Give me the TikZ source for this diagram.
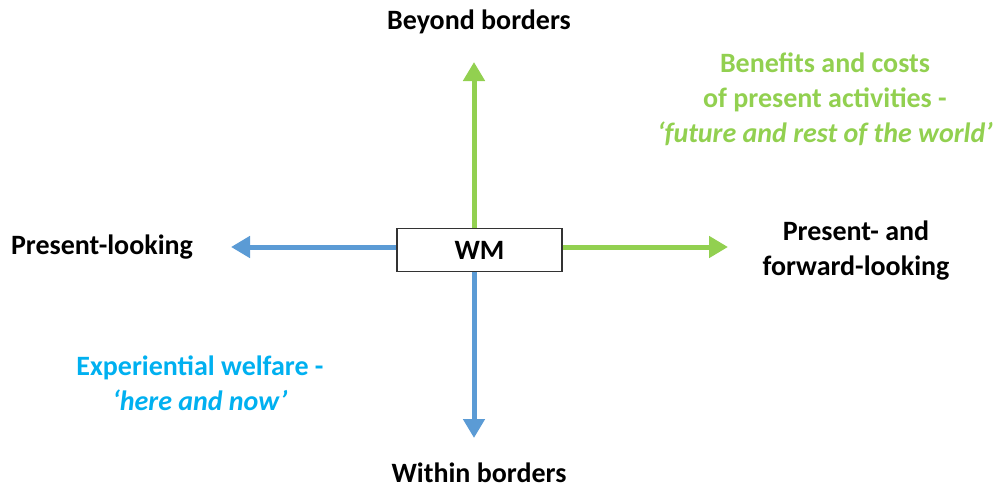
\documentclass[tikz,border=0pt]{standalone}
\usepackage{fontspec}
\setmainfont{Carlito}
\usetikzlibrary{arrows.meta}
\definecolor{agreen}{HTML}{92D050}
\definecolor{ablue}{HTML}{5B9BD5}
\definecolor{tblue}{HTML}{00B0F0}
\begin{document}
\begin{tikzpicture}[x=1pt,y=-1pt,
  lbl/.style={font=\fontsize{28}{35}\selectfont\bfseries, align=center, inner sep=0pt},
  axis/.style={line width=5pt, -{Triangle[width=21pt,length=19pt]}}]
\useasboundingbox (0,0) rectangle (997,491);
\node[draw=black!80, line width=1.2pt, minimum width=165pt, minimum height=43pt, inner sep=0pt,
  font=\fontsize{28}{30}\selectfont\bfseries] (wm) at (479.5,250) {WM};
\coordinate (top) at (474,62);
\coordinate (bot) at (474,438);
\coordinate (lft) at (231,247);
\coordinate (rgt) at (728,247);
\draw[axis, agreen] (wm.north -| top) -- (top);
\draw[axis, ablue] (wm.south -| bot) -- (bot);
\draw[axis, ablue] (wm.west |- lft) -- (lft);
\draw[axis, agreen] (wm.east |- rgt) -- (rgt);
\node[lbl] (beyond) at (479,22) {Beyond borders};
\node[lbl] (within) at (479,473) {Within borders};
\node[lbl] (pl) at (102,247) {Present-looking};
\node[lbl] (pfl) at (856,251) {Present- and\\forward-looking};
\node[lbl, text=agreen] (ben) at (825,99) {Benefits and costs\\of present activities -\\\textit{‘future and rest of the world’}};
\node[lbl, text=tblue] (exp) at (200,383) {Experiential welfare -\\\textit{‘here and now’}};
\end{tikzpicture}
\end{document}
